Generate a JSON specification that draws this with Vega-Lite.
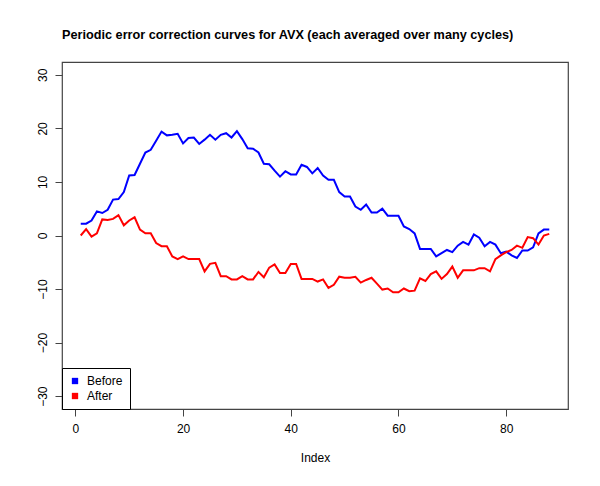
{
  "$schema": "https://vega.github.io/schema/vega-lite/v6.json",
  "width": 506,
  "height": 347,
  "autosize": "none",
  "padding": {"left": 62, "top": 62, "right": 32, "bottom": 77},
  "background": "white",
  "title": {
    "text": "Periodic error correction curves for AVX (each averaged over many cycles)",
    "anchor": "start",
    "frame": "group",
    "font": "Liberation Sans",
    "fontSize": 12.7,
    "fontWeight": "bold",
    "color": "black",
    "offset": 20
  },
  "config": {
    "view": {"stroke": "#444", "strokeWidth": 1.2},
    "axis": {"labelFont": "Liberation Sans", "titleFont": "Liberation Sans", "labelFontSize": 12, "titleFontSize": 12, "labelColor": "black", "titleColor": "black", "tickColor": "#444", "grid": false, "domain": false, "tickSize": 7, "titleFontWeight": "normal"},
    "legend": {"labelFont": "Liberation Sans", "labelFontSize": 12, "labelColor": "black"}
  },
  "data": {
    "values": [
      {"i":1,"v":2.2,"s":"Before"},{"i":2,"v":2.2,"s":"Before"},{"i":3,"v":2.8,"s":"Before"},{"i":4,"v":4.5,"s":"Before"},{"i":5,"v":4.2,"s":"Before"},{"i":6,"v":4.8,"s":"Before"},{"i":7,"v":6.7,"s":"Before"},{"i":8,"v":6.8,"s":"Before"},{"i":9,"v":8.1,"s":"Before"},{"i":10,"v":11.2,"s":"Before"},
      {"i":11,"v":11.3,"s":"Before"},{"i":12,"v":13.4,"s":"Before"},{"i":13,"v":15.5,"s":"Before"},{"i":14,"v":16.0,"s":"Before"},{"i":15,"v":17.7,"s":"Before"},{"i":16,"v":19.4,"s":"Before"},{"i":17,"v":18.7,"s":"Before"},{"i":18,"v":18.8,"s":"Before"},{"i":19,"v":19.0,"s":"Before"},{"i":20,"v":17.2,"s":"Before"},
      {"i":21,"v":18.2,"s":"Before"},{"i":22,"v":18.3,"s":"Before"},{"i":23,"v":17.1,"s":"Before"},{"i":24,"v":17.9,"s":"Before"},{"i":25,"v":18.8,"s":"Before"},{"i":26,"v":17.9,"s":"Before"},{"i":27,"v":18.8,"s":"Before"},{"i":28,"v":19.1,"s":"Before"},{"i":29,"v":18.3,"s":"Before"},{"i":30,"v":19.5,"s":"Before"},
      {"i":31,"v":18.0,"s":"Before"},{"i":32,"v":16.3,"s":"Before"},{"i":33,"v":16.2,"s":"Before"},{"i":34,"v":15.5,"s":"Before"},{"i":35,"v":13.4,"s":"Before"},{"i":36,"v":13.3,"s":"Before"},{"i":37,"v":12.1,"s":"Before"},{"i":38,"v":11.0,"s":"Before"},{"i":39,"v":12.0,"s":"Before"},{"i":40,"v":11.4,"s":"Before"},
      {"i":41,"v":11.4,"s":"Before"},{"i":42,"v":13.2,"s":"Before"},{"i":43,"v":12.8,"s":"Before"},{"i":44,"v":11.6,"s":"Before"},{"i":45,"v":12.6,"s":"Before"},{"i":46,"v":11.2,"s":"Before"},{"i":47,"v":10.4,"s":"Before"},{"i":48,"v":10.4,"s":"Before"},{"i":49,"v":8.1,"s":"Before"},{"i":50,"v":7.3,"s":"Before"},
      {"i":51,"v":7.3,"s":"Before"},{"i":52,"v":5.4,"s":"Before"},{"i":53,"v":4.8,"s":"Before"},{"i":54,"v":5.8,"s":"Before"},{"i":55,"v":4.3,"s":"Before"},{"i":56,"v":4.3,"s":"Before"},{"i":57,"v":5.0,"s":"Before"},{"i":58,"v":3.7,"s":"Before"},{"i":59,"v":3.7,"s":"Before"},{"i":60,"v":3.7,"s":"Before"},
      {"i":61,"v":1.7,"s":"Before"},{"i":62,"v":1.2,"s":"Before"},{"i":63,"v":0.4,"s":"Before"},{"i":64,"v":-2.5,"s":"Before"},{"i":65,"v":-2.5,"s":"Before"},{"i":66,"v":-2.5,"s":"Before"},{"i":67,"v":-3.9,"s":"Before"},{"i":68,"v":-3.3,"s":"Before"},{"i":69,"v":-2.7,"s":"Before"},{"i":70,"v":-3.1,"s":"Before"},
      {"i":71,"v":-1.9,"s":"Before"},{"i":72,"v":-1.2,"s":"Before"},{"i":73,"v":-1.7,"s":"Before"},{"i":74,"v":0.2,"s":"Before"},{"i":75,"v":-0.4,"s":"Before"},{"i":76,"v":-2.0,"s":"Before"},{"i":77,"v":-1.2,"s":"Before"},{"i":78,"v":-1.7,"s":"Before"},{"i":79,"v":-3.3,"s":"Before"},{"i":80,"v":-3.0,"s":"Before"},
      {"i":81,"v":-3.7,"s":"Before"},{"i":82,"v":-4.2,"s":"Before"},{"i":83,"v":-2.8,"s":"Before"},{"i":84,"v":-2.8,"s":"Before"},{"i":85,"v":-2.2,"s":"Before"},{"i":86,"v":0.4,"s":"Before"},{"i":87,"v":1.1,"s":"Before"},{"i":88,"v":1.1,"s":"Before"},
      {"i":1,"v":0.0,"s":"After"},{"i":2,"v":1.2,"s":"After"},{"i":3,"v":-0.2,"s":"After"},{"i":4,"v":0.4,"s":"After"},{"i":5,"v":3.0,"s":"After"},{"i":6,"v":2.9,"s":"After"},{"i":7,"v":3.1,"s":"After"},{"i":8,"v":3.8,"s":"After"},{"i":9,"v":1.9,"s":"After"},{"i":10,"v":2.8,"s":"After"},
      {"i":11,"v":3.4,"s":"After"},{"i":12,"v":1.1,"s":"After"},{"i":13,"v":0.4,"s":"After"},{"i":14,"v":0.4,"s":"After"},{"i":15,"v":-1.4,"s":"After"},{"i":16,"v":-2.0,"s":"After"},{"i":17,"v":-2.0,"s":"After"},{"i":18,"v":-3.9,"s":"After"},{"i":19,"v":-4.4,"s":"After"},{"i":20,"v":-3.9,"s":"After"},
      {"i":21,"v":-4.4,"s":"After"},{"i":22,"v":-4.4,"s":"After"},{"i":23,"v":-4.4,"s":"After"},{"i":24,"v":-6.7,"s":"After"},{"i":25,"v":-5.3,"s":"After"},{"i":26,"v":-5.1,"s":"After"},{"i":27,"v":-7.6,"s":"After"},{"i":28,"v":-7.6,"s":"After"},{"i":29,"v":-8.2,"s":"After"},{"i":30,"v":-8.2,"s":"After"},
      {"i":31,"v":-7.6,"s":"After"},{"i":32,"v":-8.2,"s":"After"},{"i":33,"v":-8.2,"s":"After"},{"i":34,"v":-6.8,"s":"After"},{"i":35,"v":-7.8,"s":"After"},{"i":36,"v":-6.0,"s":"After"},{"i":37,"v":-5.4,"s":"After"},{"i":38,"v":-7.0,"s":"After"},{"i":39,"v":-7.0,"s":"After"},{"i":40,"v":-5.3,"s":"After"},
      {"i":41,"v":-5.3,"s":"After"},{"i":42,"v":-8.1,"s":"After"},{"i":43,"v":-8.1,"s":"After"},{"i":44,"v":-8.1,"s":"After"},{"i":45,"v":-8.6,"s":"After"},{"i":46,"v":-8.2,"s":"After"},{"i":47,"v":-9.8,"s":"After"},{"i":48,"v":-9.2,"s":"After"},{"i":49,"v":-7.7,"s":"After"},{"i":50,"v":-7.9,"s":"After"},
      {"i":51,"v":-7.9,"s":"After"},{"i":52,"v":-7.7,"s":"After"},{"i":53,"v":-8.8,"s":"After"},{"i":54,"v":-8.3,"s":"After"},{"i":55,"v":-7.9,"s":"After"},{"i":56,"v":-9.0,"s":"After"},{"i":57,"v":-10.1,"s":"After"},{"i":58,"v":-9.9,"s":"After"},{"i":59,"v":-10.6,"s":"After"},{"i":60,"v":-10.6,"s":"After"},
      {"i":61,"v":-9.9,"s":"After"},{"i":62,"v":-10.4,"s":"After"},{"i":63,"v":-10.3,"s":"After"},{"i":64,"v":-8.0,"s":"After"},{"i":65,"v":-8.5,"s":"After"},{"i":66,"v":-7.2,"s":"After"},{"i":67,"v":-6.7,"s":"After"},{"i":68,"v":-8.1,"s":"After"},{"i":69,"v":-7.2,"s":"After"},{"i":70,"v":-5.8,"s":"After"},
      {"i":71,"v":-7.9,"s":"After"},{"i":72,"v":-6.5,"s":"After"},{"i":73,"v":-6.5,"s":"After"},{"i":74,"v":-6.5,"s":"After"},{"i":75,"v":-6.1,"s":"After"},{"i":76,"v":-6.1,"s":"After"},{"i":77,"v":-6.7,"s":"After"},{"i":78,"v":-4.4,"s":"After"},{"i":79,"v":-3.7,"s":"After"},{"i":80,"v":-3.1,"s":"After"},
      {"i":81,"v":-2.7,"s":"After"},{"i":82,"v":-1.9,"s":"After"},{"i":83,"v":-2.3,"s":"After"},{"i":84,"v":-0.3,"s":"After"},{"i":85,"v":-0.5,"s":"After"},{"i":86,"v":-1.7,"s":"After"},{"i":87,"v":0.0,"s":"After"},{"i":88,"v":0.3,"s":"After"}
    ]
  },
  "mark": {"type": "line", "strokeWidth": 2, "interpolate": "linear"},
  "encoding": {
    "x": {"field": "i", "type": "quantitative", "title": "Index",
      "scale": {"domain": [-2.48, 91.48], "nice": false, "zero": false},
      "axis": {"values": [0, 20, 40, 60, 80], "labelPadding": 7, "titlePadding": 18}},
    "y": {"field": "v", "type": "quantitative", "title": null,
      "scale": {"domain": [-32.4, 32.4], "nice": false, "zero": false},
      "axis": {"values": [-30, -20, -10, 0, 10, 20, 30], "labelAngle": -90, "labelAlign": "center", "labelBaseline": "bottom", "labelPadding": 6}},
    "color": {"field": "s", "type": "nominal",
      "scale": {"domain": ["Before", "After"], "range": ["#0000FF", "#FF0000"]},
      "legend": {"title": null, "orient": "bottom-left", "offset": 0, "padding": 7, "rowPadding": 3,
        "strokeColor": "black", "fillColor": "white", "symbolType": "square", "symbolSize": 40, "symbolStrokeWidth": 0, "labelOffset": 6,
        "encode": {"symbols": {"update": {"fill": {"scale": "color", "field": "value"}, "fillOpacity": {"value": 1}}}}}}
  }
}
